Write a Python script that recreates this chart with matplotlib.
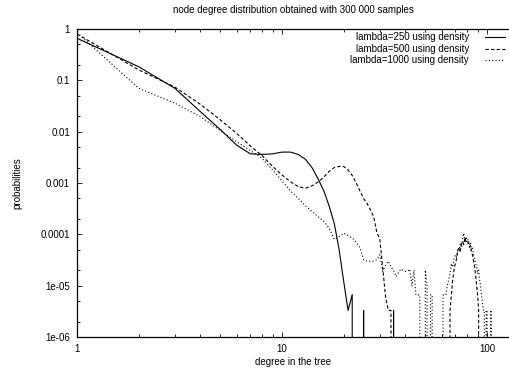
import matplotlib
matplotlib.use('Agg')
import matplotlib.pyplot as plt
from matplotlib.lines import Line2D
from matplotlib.ticker import LogLocator, NullFormatter

plt.rcParams['font.family'] = ['Liberation Sans', 'DejaVu Sans']
plt.rcParams['font.size'] = 7

title = 'node degree distribution obtained with 300 000 samples'
xlabel = 'degree in the tree'
ylabel = 'probabilities'
series_labels = ['lambda=250 using density',
                 'lambda=500 using density',
                 'lambda=1000 using density']

# probability of each node degree, starting at degree 1
p250 = [0.66, 0.184, 0.070, 0.0245, 0.011, 0.0055, 0.0037, 0.0036, 0.0037, 0.0040,
        0.0040, 0.0036, 0.0029, 0.0020, 0.0012, 0.0007, 0.00035, 0.00016, 5e-5, 1.2e-5,
        3.3e-6, 6.7e-6, 0, 0, 3.3e-6, 0, 0, 0, 0, 0,
        0, 0, 0, 0, 3.3e-6, 0]

p500 = [0.80, 0.16, 0.074, 0.034, 0.017, 0.0093, 0.0053, 0.0034, 0.0021, 0.00143,
        0.00106, 0.00085, 0.00079, 0.00088, 0.00105, 0.0013, 0.0017, 0.0020, 0.0021, 0.0021,
        0.0018, 0.0014, 0.0010, 0.0007, 0.00050, 0.00040, 0.00030, 0.00022, 0.00011, 8e-5,
        2.2e-5, 6e-6, 3.3e-6, 3.3e-6, 0, 0, 0, 0, 0, 0,
        0, 0, 0, 0, 0, 0, 0, 0, 0, 0,
        0, 0, 0, 0, 0, 0, 0, 0, 0, 0,
        0, 0, 0, 0, 0, 3.3e-6, 6.6e-6, 1.3e-5, 2.0e-5, 2.7e-5,
        3.3e-5, 4.6e-5, 5.3e-5, 4.6e-5, 6.6e-5, 7.3e-5, 6.3e-5, 8.6e-5, 7.3e-5, 6.6e-5,
        7.0e-5, 5.6e-5, 6.0e-5, 4.3e-5, 4.0e-5, 3.0e-5, 2.3e-5, 1.6e-5, 1.0e-5, 6.6e-6,
        3.3e-6, 0]

p1000 = [0.85, 0.07, 0.036, 0.0196, 0.0105, 0.0064, 0.0043, 0.0030, 0.0018, 0.0011,
         0.0007, 0.0005, 0.00036, 0.00028, 0.00022, 0.00018, 0.00013, 8e-5, 9e-5, 1.05e-4,
         9.5e-5, 8.5e-5, 7e-5, 5.5e-5, 3.2e-5, 3.0e-5, 3.0e-5, 3.0e-5, 3.2e-5, 4e-5,
         1.9e-5, 2.5e-5, 3.0e-5, 2.3e-5, 2.0e-5, 1.5e-5, 1.8e-5, 2.1e-5, 2.0e-5, 1.9e-5,
         1.9e-5, 2.1e-5, 9.6e-6, 2.0e-5, 6.6e-6, 6.6e-6, 6.6e-6, 0, 0, 2.0e-5,
         1.0e-5, 0, 6.6e-6, 6.6e-6, 0, 0, 0, 0, 0, 0,
         6.6e-6, 6.6e-6, 6.6e-6, 1.0e-5, 1.3e-5, 1.7e-5, 2.7e-5, 2.3e-5, 3.3e-5, 4.0e-5,
         3.6e-5, 5.3e-5, 4.6e-5, 6.6e-5, 5.6e-5, 8.3e-5, 1.05e-4, 7.3e-5, 9.0e-5, 7.0e-5,
         8.0e-5, 6.3e-5, 7.0e-5, 5.0e-5, 5.6e-5, 4.0e-5, 3.3e-5, 2.7e-5, 2.3e-5, 1.7e-5,
         2.0e-5, 1.3e-5, 1.0e-5, 6.6e-6, 4.6e-6, 3.3e-6, 3.3e-6, 0, 3.3e-6, 3.3e-6,
         0, 0, 0, 3.3e-6, 3.3e-6, 0, 0]

xtick_vals = [1, 10, 100]
xtick_labels = ['1', '10', '100']
ytick_vals = [1, 0.1, 0.01, 0.001, 0.0001, 1e-05, 1e-06]
ytick_labels = ['1', '0.1', '0.01', '0.001', '0.0001', '1e-05', '1e-06']

W, H = 509, 371
fig = plt.figure(figsize=(W / 100, H / 100), dpi=100)
ax = fig.add_axes([77 / W, 1 - 337 / H, (W - 77) / W, (337 - 29) / H])

styles = ['-', (0, (3, 2)), (0, (1, 2))]
for p, ls in zip([p250, p500, p1000], styles):
    deg = list(range(1, len(p) + 1))
    ax.plot(deg, p, color='black', lw=0.8, ls=ls)

ax.set_xscale('log')
ax.set_yscale('log')
ax.set_xlim(1, 128)
ax.set_ylim(1e-6, 1)

ax.set_xticks(xtick_vals, xtick_labels)
ax.set_yticks(ytick_vals, ytick_labels)
ax.xaxis.set_minor_locator(LogLocator(base=10, subs=range(2, 10)))
ax.yaxis.set_minor_locator(LogLocator(base=10, subs=(2.0, 5.0)))
ax.xaxis.set_minor_formatter(NullFormatter())
ax.yaxis.set_minor_formatter(NullFormatter())

ax.spines['right'].set_visible(False)
for s in ['left', 'bottom', 'top']:
    ax.spines[s].set_linewidth(0.9)
ax.tick_params(which='both', direction='in', top=True, right=False, width=0.6)
ax.tick_params(which='major', length=3.5)
ax.tick_params(which='minor', length=2)
ax.tick_params(axis='x', pad=5)
ax.tick_params(axis='y', pad=5)

fig.text(293 / W, 1 - 10 / H, title, ha='center', va='center')
fig.text(293 / W, 1 - 362 / H, xlabel, ha='center', va='center')
fig.text(17 / W, 1 - 183 / H, ylabel, ha='center', va='center', rotation=90)

# key in the top right corner, text right aligned before the sample line
for i, (lab, ls) in enumerate(zip(series_labels, styles)):
    y = 1 - (37 + 11.5 * i) / H
    fig.text(469 / W, y, lab, ha='right', va='center')
    fig.add_artist(Line2D([485 / W, 505 / W], [y, y], transform=fig.transFigure,
                          color='black', lw=0.8, ls=ls))

fig.savefig('out.png', dpi=100)
